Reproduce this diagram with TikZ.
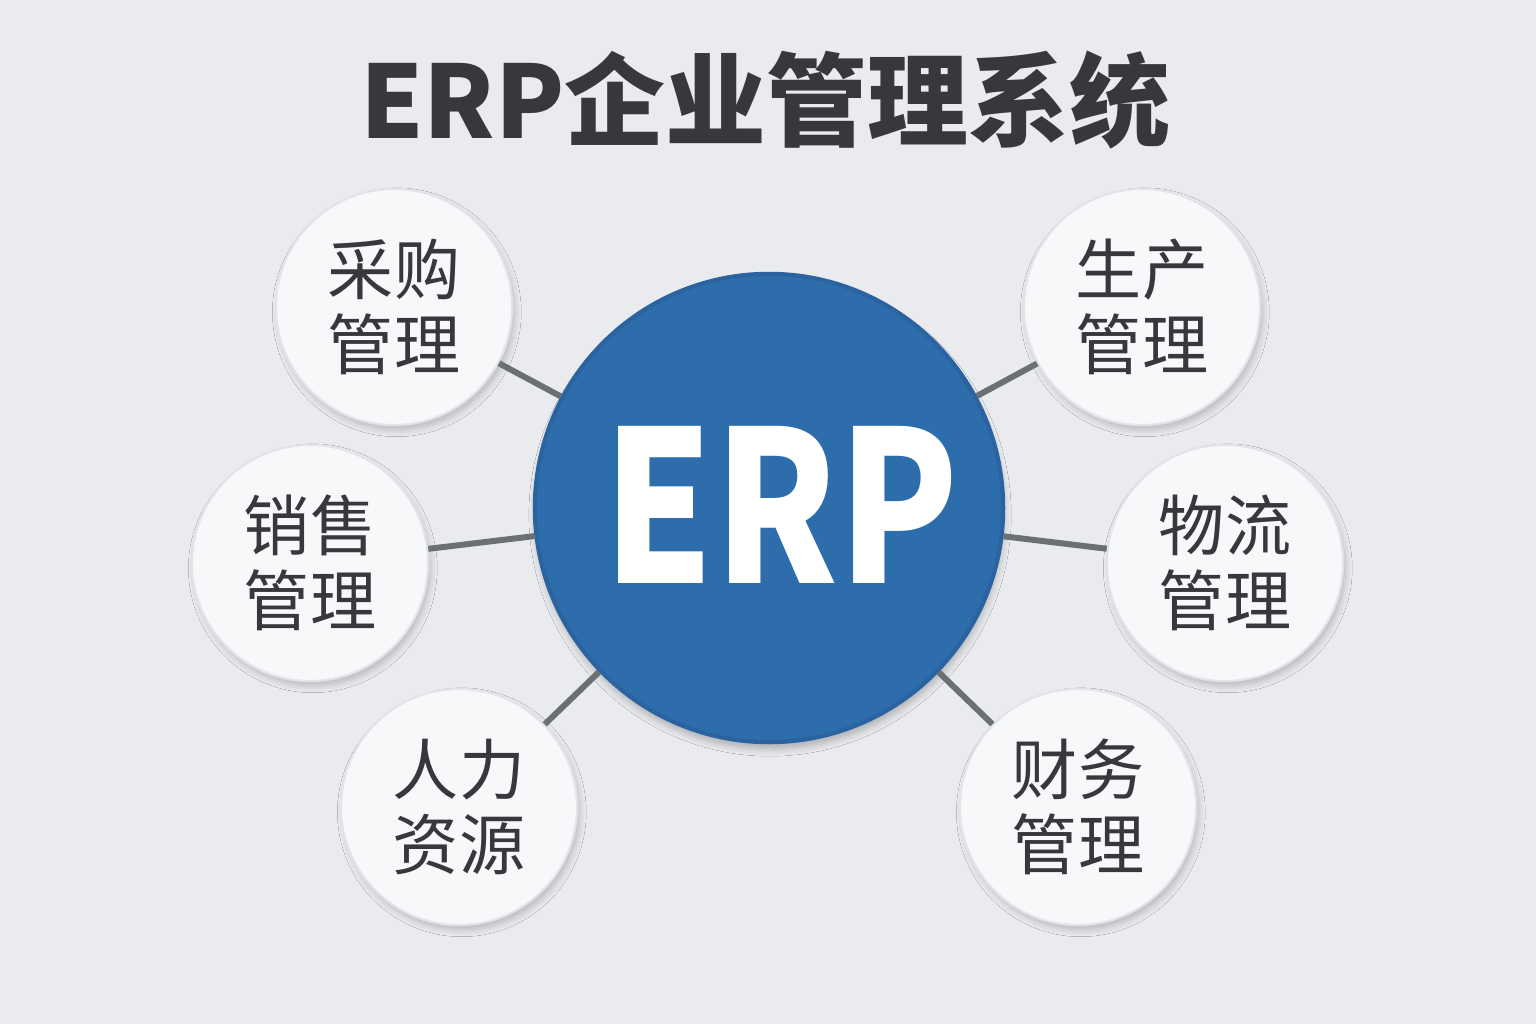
\documentclass[tikz,border=0pt]{standalone}
\usepackage{fontspec}
\setmainfont{Noto Sans CJK SC}
\usetikzlibrary{shadows.blur}

\definecolor{bgcol}{HTML}{E9EBEE}
\definecolor{erpblue}{HTML}{2E6DAB}
\definecolor{erpedge}{HTML}{2A63A0}
\definecolor{modfill}{HTML}{F7F8F9}
\definecolor{modedge}{HTML}{E2E4E7}
\definecolor{linecol}{HTML}{6C6F73}
\definecolor{textcol}{HTML}{36383B}

\begin{document}
\begin{tikzpicture}[x=0.01cm, y=-0.01cm,
	every node/.style={font=\fontsize{18.8}{21.3}\selectfont, text=textcol},
	hub/.style={circle, minimum size=4.68cm, inner sep=0pt, fill=erpblue, draw=erpedge, line width=1.2pt,
		blur shadow={shadow xshift=0.3pt, shadow yshift=-2pt, shadow blur radius=2pt, shadow opacity=25}},
	module/.style={circle, minimum size=2.36cm, inner sep=0pt, align=center, fill=modfill, draw=modedge, line width=0.6pt,
		blur shadow={shadow xshift=0.8pt, shadow yshift=-1.5pt, shadow blur radius=1.8pt, shadow opacity=20}},
	link/.style={draw=linecol, line width=1.7pt}]
	\fill[bgcol] (0,0) rectangle (1536,1024);
	\useasboundingbox (0,0) rectangle (1536,1024);
	\node[font=\bfseries\fontsize{28.7}{30}\selectfont] (title) at (765,100) {ERP企业管理系统};
	\node[hub] (erp) at (769,508) {};
	\node[text=white, font=\bfseries\fontsize{60}{60}\selectfont] (erptext) at (781,505) {\scalebox{0.83}[1]{ERP}};
	\node[module] (caigou) at (394,307) {采购\\管理};
	\node[module] (shengchan) at (1142,307) {生产\\管理};
	\node[module] (xiaoshou) at (310,563) {销售\\管理};
	\node[module] (wuliu) at (1225,563) {物流\\管理};
	\node[module] (renli) at (459,807) {人力\\资源};
	\node[module] (caiwu) at (1078,807) {财务\\管理};
	\foreach \m in {caigou,shengchan,xiaoshou,wuliu,renli,caiwu}
		\draw[link] (erp) -- (\m);
\end{tikzpicture}
\end{document}
